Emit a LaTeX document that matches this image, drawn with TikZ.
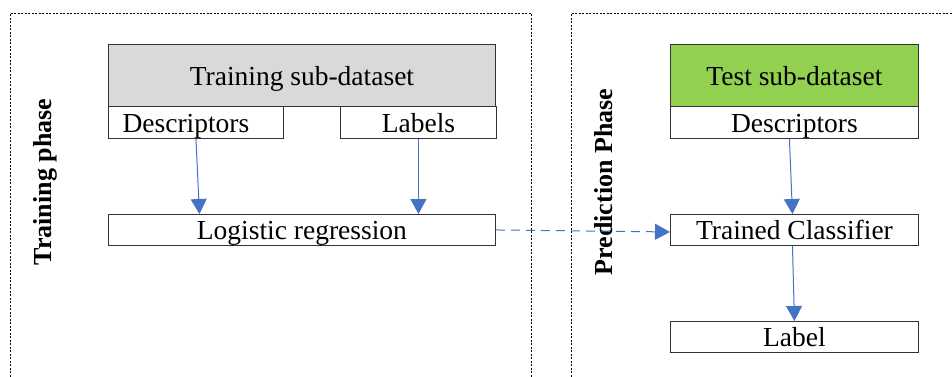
\documentclass[tikz,border=0pt]{standalone}
\usepackage{fontspec}
\setmainfont{Liberation Serif}
\usetikzlibrary{arrows.meta}
\definecolor{arrowblue}{HTML}{4472C4}
\definecolor{greyfill}{HTML}{D9D9D9}
\definecolor{greenfill}{HTML}{92D050}
\tikzset{
  box/.style={draw=black!80, line width=0.9pt, inner sep=0pt, anchor=north west, text height=20pt, text depth=0pt, font=\fontsize{27.5}{30}\selectfont},
  frame/.style={draw=black, line width=0.8pt, dash pattern=on 2pt off 1.5pt},
  flow/.style={draw=arrowblue, line width=1pt, -{Triangle[width=16pt,length=15pt]}},
  dflow/.style={flow, dash pattern=on 9pt off 6pt},
  phase/.style={rotate=90, font=\fontsize{26}{28}\selectfont\bfseries}
}
\begin{document}
\begin{tikzpicture}[x=1pt,y=-1pt]
\useasboundingbox (0,0) rectangle (952,376);
% frames
\draw[frame] (10,380) -- (10,13) -- (531,13) -- (531,380);
\draw[frame] (571,380) -- (571,13) -- (955,13);
% training
\node[box, fill=greyfill, minimum width=387pt, minimum height=62pt] (tsd) at (108,44) {Training sub-dataset};
\node[box, minimum width=175pt, minimum height=32pt] (desc) at (108,106) {Descriptors\kern20pt};
\node[box, minimum width=156pt, minimum height=32pt] (lab) at (340,106) {Labels};
\node[box, minimum width=387pt, minimum height=31pt] (lr) at (108,214) {Logistic regression};
\node[phase] (tp) at (45,182) {Training phase};
% prediction
\node[box, fill=greenfill, minimum width=248pt, minimum height=62pt] (test) at (670,44) {Test sub-dataset};
\node[box, minimum width=248pt, minimum height=32pt] (desc2) at (670,106) {Descriptors};
\node[box, minimum width=248pt, minimum height=31pt] (tc) at (670,214) {Trained Classifier};
\node[box, minimum width=248pt, minimum height=31pt] (lbl) at (670,321) {Label};
\node[phase] (pp) at (604,182) {Prediction Phase};
% connectors
\draw[flow] (desc.south) -- ([xshift=-102.5pt]lr.north);
\draw[flow] (lab.south) -- ([xshift=116.5pt]lr.north);
\draw[flow] ([xshift=-5pt]desc2.south) -- ([xshift=-2pt]tc.north);
\draw[flow] ([xshift=-2pt]tc.south) -- (lbl.north);
\draw[dflow] (lr.east) -- ([yshift=-2pt]tc.west);
\end{tikzpicture}
\end{document}
